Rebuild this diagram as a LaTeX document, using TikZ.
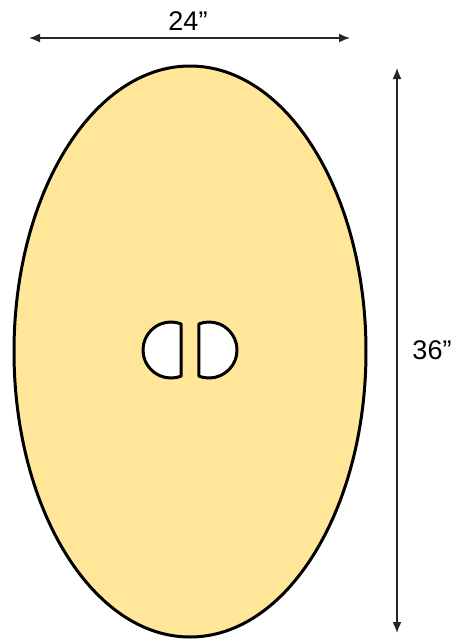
\documentclass[tikz,border=0pt]{standalone}
\usepackage{fontspec}
\setmainfont{Liberation Sans}
\usetikzlibrary{arrows.meta}

\definecolor{boardfill}{RGB}{255,230,153}

\tikzset{
	dimline/.style={line width=0.75pt, black!85, {Latex[length=5.5pt,width=4.5pt]}-{Latex[length=5.5pt,width=4.5pt]}},
	dimlabel/.style={font=\fontsize{13.5}{16}\selectfont, inner sep=0pt},
	hole/.style={fill=white, draw=black, line width=1.5pt, line join=round}
}

\begin{document}
\begin{tikzpicture}[x=0.5pt, y=-0.5pt]
		
		\useasboundingbox (0,0) rectangle (452,639);
		
		% --- board ---
		\filldraw[fill=boardfill, line width=1.5pt] (190,351.5) ellipse [x radius=176, y radius=285.5];
		
		% --- hand holes ---
		\filldraw[hole] (171,350) ++(69:28) arc[start angle=69, end angle=291, radius=28] -- cycle;
		\filldraw[hole] (209,350) ++(111:28) arc[start angle=111, end angle=-111, radius=28] -- cycle;
		
		% --- width ---
		\coordinate (wl) at (29,38);
		\coordinate (wr) at (350,38);
		\draw[dimline] (wl) -- (wr);
		\node[dimlabel] (wlab) at (188,21) {24”};
		
		% --- height ---
		\coordinate (ht) at (397,68);
		\coordinate (hb) at (397,633);
		\draw[dimline] (ht) -- (hb);
		\node[dimlabel] (hlab) at (432,350) {36”};
		
\end{tikzpicture}
\end{document}
